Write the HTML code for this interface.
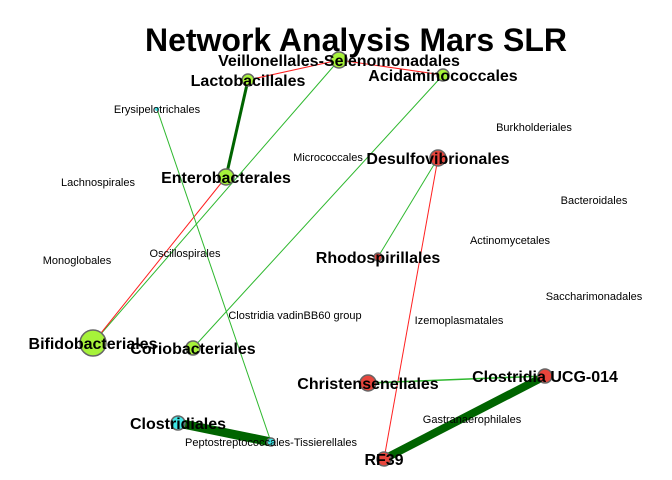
<!DOCTYPE html>
<html><head><meta charset="utf-8"><style>
body{margin:0;background:#fff}
svg{display:block;font-family:"Liberation Sans",sans-serif}
</style></head><body>
<svg id="net" width="672" height="480">
<text x="356" y="51" text-anchor="middle" font-size="32" font-weight="bold">Network Analysis Mars SLR</text>
<g id="edges"></g>
<g id="nodes"></g>
<g id="labels"></g>
</svg>
<script>
const nodeNames=["Veillonellales-Selenomonadales","Lactobacillales","Acidaminococcales","Erysipelotrichales","Enterobacterales","Desulfovibrionales","Rhodospirillales","Bifidobacteriales","Coriobacteriales","Christensenellales","Clostridia UCG-014","Clostridiales","Peptostreptococcales-Tissierellales","RF39","Burkholderiales","Lachnospirales","Bacteroidales","Monoglobales","Oscillospirales","Actinomycetales","Micrococcales","Saccharimonadales","Clostridia vadinBB60 group","Izemoplasmatales","Gastranaerophilales"];
const nodeX=[339,248,443,157,226,438,378,93,193,368,545,178,271,384,534,98,594,77,185,510,328,594,295,459,472];
const nodeY=[60,80,75,109,177,158,257,343,348,383,376,423,442,459,127,182,200,260,253,240,157,296,315,320,419];
const nodeSize=[8,6,6,2,8,8,4,13,7,8,7,7,4,7,0,0,0,0,0,0,0,0,0,0,0];
const nodeGroup=["g","g","g","c","g","r","r","g","g","r","r","c","c","r","n","n","n","n","n","n","n","n","n","n","n"];
const nodeBold=[1,1,1,0,1,1,1,1,1,1,1,1,0,1,0,0,0,0,0,0,0,0,0,0,0];
const edgeFrom=[1,0,1,0,4,2,3,5,5,9,10,11];
const edgeTo=[0,2,4,7,7,8,12,6,13,10,13,12];
const edgeWeight=[1,1,3,1,1,1,1,1,1,1.5,8,9];
const edgeSign=["-","-","+","+","-","+","+","+","-","+","+","+"];
const colors={g:"#a6f23a",c:"#40e6e6",r:"#e8453c"};
const NS="http://www.w3.org/2000/svg";
const eg=document.getElementById("edges"),ng=document.getElementById("nodes"),lg=document.getElementById("labels");
edgeFrom.forEach((f,i)=>{
  const t=edgeTo[i],l=document.createElementNS(NS,"line");
  l.setAttribute("x1",nodeX[f]);l.setAttribute("y1",nodeY[f]);
  l.setAttribute("x2",nodeX[t]);l.setAttribute("y2",nodeY[t]);
  const w=edgeWeight[i];
  l.setAttribute("stroke",edgeSign[i]=="-"?"#ff2020":(w>2?"#006400":"#2eb82e"));
  l.setAttribute("stroke-width",w);
  
  
  eg.appendChild(l);
});
nodeNames.forEach((n,i)=>{
  if(nodeSize[i]>0){
    const c=document.createElementNS(NS,"circle");
    c.setAttribute("cx",nodeX[i]);c.setAttribute("cy",nodeY[i]);c.setAttribute("r",nodeSize[i]);
    c.setAttribute("fill",colors[nodeGroup[i]]);
    c.setAttribute("stroke",nodeSize[i]>3?"#666":"none");c.setAttribute("stroke-width",1.5);
    
    
    ng.appendChild(c);
  }
  const t=document.createElementNS(NS,"text");
  t.setAttribute("x",nodeX[i]);t.setAttribute("y",nodeY[i]+(nodeBold[i]?6:4));
  t.setAttribute("text-anchor","middle");
  t.setAttribute("font-size",nodeBold[i]?16:11);
  if(nodeBold[i])t.setAttribute("font-weight","bold");
  t.textContent=n;
  
  
  lg.appendChild(t);
});
</script>
</body></html>
